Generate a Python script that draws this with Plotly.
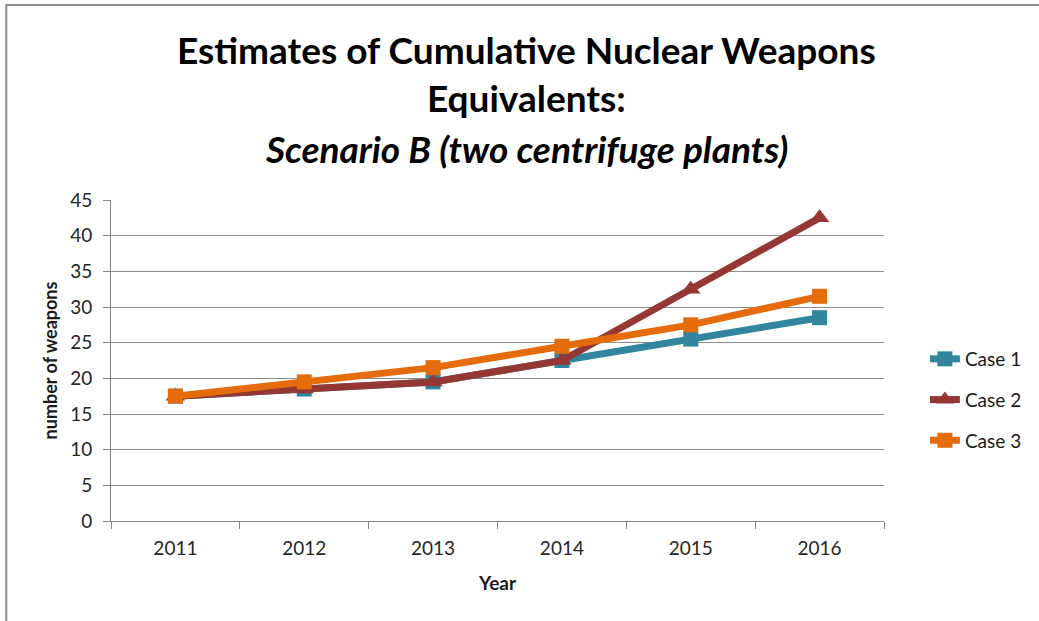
import plotly.graph_objects as go

years = ["2011", "2012", "2013", "2014", "2015", "2016"]
case1 = [17.5, 18.5, 19.5, 22.5, 25.5, 28.5]
case2 = [17.5, 18.5, 19.5, 22.5, 32.5, 42.5]
case3 = [17.5, 19.5, 21.5, 24.5, 27.5, 31.5]
y_ticks = [0, 5, 10, 15, 20, 25, 30, 35, 40, 45]

FONT = "Lato"
series = [
    ("Case 1", case1, "#31859C", "square", 15),
    ("Case 2", case2, "#953735", "triangle-up", 17),
    ("Case 3", case3, "#E46C0A", "square", 15),
]

fig = go.Figure()
for name, vals, color, sym, size in series:
    fig.add_trace(go.Scatter(
        x=years, y=vals, name=name, mode="lines+markers",
        line=dict(color=color, width=7),
        marker=dict(symbol=sym, size=size, color=color),
        legendgroup=name,
    ))

fig.update_layout(
    width=1039, height=621,
    margin=dict(l=111, r=153, t=200, b=100),
    paper_bgcolor="white", plot_bgcolor="white",
    font=dict(family=FONT, color="#262626"),
    showlegend=True,
    legend=dict(x=(927 - 111) / 775, y=(521 - 400) / 321, xanchor="left", yanchor="middle",
                font=dict(family=FONT, size=19, color="#1a1a1a"),
                traceorder="grouped", tracegroupgap=13,
                bgcolor="rgba(0,0,0,0)"),
    xaxis=dict(
        type="category", range=[-0.5, 5.5], showgrid=False,
        showline=True, linecolor="#868686", linewidth=1,
        ticks="outside", tickson="boundaries", ticklen=7, tickcolor="#868686",
        ticklabelstandoff=10,
        tickfont=dict(family=FONT, size=19, color="#262626"),
        title=dict(text="<b>Year</b>", font=dict(family=FONT, size=19, color="#1a1a1a"), standoff=18),
    ),
    yaxis=dict(
        range=[0, 45], tickvals=y_ticks,
        showgrid=True, gridcolor="#8c8c8c", gridwidth=1,
        showline=True, linecolor="#868686", linewidth=1,
        ticks="outside", ticklen=7, tickcolor="#868686",
        ticklabelstandoff=7,
        tickfont=dict(family=FONT, size=19, color="#262626"),
        zeroline=False,
        title=dict(text="<b>number of weapons</b>", font=dict(family=FONT, size=18, color="#1a1a1a"), standoff=7),
    ),
)

# Title lines
title_x = (528 - 111) / 775
for txt, py in [("<b>Estimates of Cumulative Nuclear Weapons</b>", 49),
                ("<b>Equivalents:</b>", 97),
                ("<b><i>Scenario B (two centrifuge plants)</i></b>", 148)]:
    fig.add_annotation(text=txt, xref="paper", yref="paper",
                       x=title_x, y=(521 - py) / 321, xanchor="center", yanchor="middle",
                       showarrow=False, font=dict(family=FONT, size=37, color="black"))

# Outer chart border (top and left visible)
fig.add_shape(type="rect", xref="paper", yref="paper",
              x0=(6 - 111) / 775, x1=(1060 - 111) / 775,
              y0=(521 - 640) / 321, y1=(521 - 5) / 321,
              line=dict(color="#8a8a8a", width=2), fillcolor="rgba(0,0,0,0)", layer="below")

fig.write_html("out.html", config={"displayModeBar": False},
               post_script="document.body.style.margin='0';document.body.style.overflow='hidden';")
